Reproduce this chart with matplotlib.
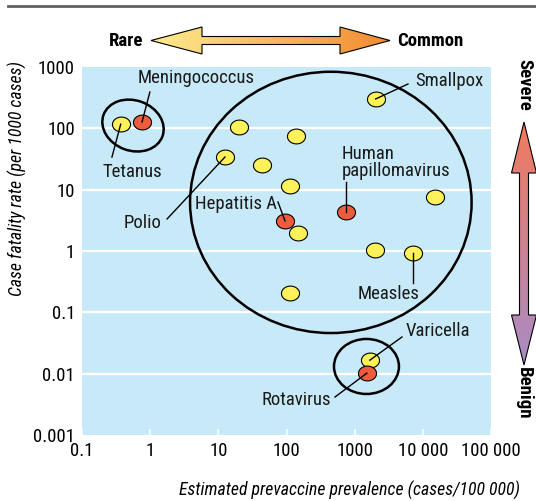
import numpy as np
import matplotlib
matplotlib.use("Agg")
import matplotlib.pyplot as plt
from matplotlib.patches import Ellipse, Polygon
from matplotlib.path import Path
from matplotlib.transforms import IdentityTransform
from matplotlib.colors import LinearSegmentedColormap

plt.rcParams['font.family'] = ['Roboto Condensed', 'DejaVu Sans']

#points jaunes (maladies)
yel_x = [0.37, 20, 138, 12.5, 44, 112, 147, 15300, 1980, 7100, 112, 2030, 1670]
yel_y = [117, 105, 75, 34, 25, 11.4, 1.96, 7.6, 1.03, 0.93, 0.206, 301, 0.0166]

#points rouges
red_x = [0.76, 95, 740, 1510]
red_y = [127, 3.1, 4.3, 0.0102]

#étiquettes
names = ['Meningococcus', 'Tetanus', 'Polio', 'Hepatitis A', 'Human\npapillomavirus',
         'Smallpox', 'Measles', 'Varicella', 'Rotavirus']
pt_x = [0.76, 0.37, 12.5, 95, 740, 2030, 7100, 1670, 1510]
pt_y = [127, 117, 34, 3.1, 4.3, 301, 0.93, 0.0166, 0.0102]
txt_x = [4.7, 0.54, 0.785, 17.9, 652, 7680, 3130, 5600, 138]
txt_y = [660, 19.4, 2.86, 5.83, 27.7, 598, 0.199, 0.0496, 0.00372]
txt_ha = ['center', 'center', 'center', 'center', 'left', 'left', 'center', 'left', 'center']
end_x = [0.99, 0.275, 1.77, 75, 740, 6050, 7100, 4940, 514]
end_y = [391, 34, 3.33, 6.3, 13.3, 528, 0.30, 0.0396, 0.00416]

#ellipses de regroupement (centre en données, taille en décades, angle)
grp_x = [0.56, 447, 1490]
grp_y = [111, 6.2, 0.0131]
grp_w = [0.92, 4.13, 0.953]
grp_h = [0.82, 4.26, 0.897]
grp_a = [-20, 0, 0]

#axes
xticks = [0.1, 1, 10, 100, 1000, 10000, 100000]
xlabels = ['0.1', '1', '10', '100', '1000', '10 000', '100 000']
yticks = [0.001, 0.01, 0.1, 1, 10, 100, 1000]
ylabels = ['0.001', '0.01', '0.1', '1', '10', '100', '1000']

bg = '#C8E9F8'
yellow = '#FFF159'
red = '#EF5B3D'
fs = 13.5

fig = plt.figure(figsize=(5.36, 5.01), dpi=100)
ax = fig.add_axes([82/536, 1-435/501, 409/536, 368/501])
ax.set_xscale('log')
ax.set_yscale('log')
ax.set_xlim(0.1, 100000)
ax.set_ylim(0.001, 1000)
ax.set_facecolor(bg)
for s in ax.spines.values():
    s.set_visible(False)
ax.set_xticks(xticks)
ax.set_xticklabels(xlabels)
ax.set_yticks(yticks)
ax.set_yticklabels(ylabels)
ax.minorticks_off()
ax.tick_params(axis='x', direction='in', color='white', length=4, width=1.2, pad=5, labelsize=fs)
ax.tick_params(axis='y', length=0, pad=5, labelsize=fs)
for y in yticks[1:-1]:
    ax.axhline(y, color='white', lw=1.6, zorder=1)

#marqueur ellipse
t = np.linspace(0, 2*np.pi, 80)
mk = Path(np.column_stack([np.cos(t), 0.82*np.sin(t)]), closed=True)
ax.plot(yel_x, yel_y, ls='none', marker=mk, ms=13, mfc=yellow, mec='black', mew=0.8, zorder=3)
ax.plot(red_x, red_y, ls='none', marker=mk, ms=13, mfc=red, mec='black', mew=0.8, zorder=3)

#lignes de rappel et textes
for i in range(len(names)):
    ax.plot([pt_x[i], end_x[i]], [pt_y[i], end_y[i]], color='black', lw=1, zorder=4)
    ax.text(txt_x[i], txt_y[i], names[i], ha=txt_ha[i], va='center', fontsize=fs,
            linespacing=0.95, color='#1a1a1a', zorder=5)

#ellipses en pixels
fig.canvas.draw()
bb = ax.get_window_extent()
dec_x = bb.width / 6
dec_y = bb.height / 6
for i in range(len(grp_x)):
    cx, cy = ax.transData.transform((grp_x[i], grp_y[i]))
    e = Ellipse((cx, cy), grp_w[i]*dec_x, grp_h[i]*dec_y, angle=grp_a[i],
                transform=IdentityTransform(), fill=False, ec='black', lw=1.8, zorder=2)
    ax.add_artist(e)

#décor (flèches, titres)
ov = fig.add_axes([0, 0, 1, 1], zorder=-1)
ov.patch.set_visible(False)
ov.axis('off')

ov.plot([8, 536], [5.5, 5.5], color='#606060', lw=2)

top = [(151, 40.5), (202, 27), (202, 36.5), (340, 36.5), (340, 27), (390, 40.5),
       (340, 54), (340, 44.5), (202, 44.5), (202, 54)]
cm1 = LinearSegmentedColormap.from_list('c1', ['#FCEC90', '#F28A30'])
p1 = Polygon(top, closed=True, fc='none', ec='black', lw=0.8, zorder=3)
ov.add_patch(p1)
im1 = ov.imshow(np.linspace(0, 1, 256).reshape(1, -1), cmap=cm1, extent=(151, 390, 54, 27),
                aspect='auto', zorder=2)
im1.set_clip_path(p1)

right = [(524, 122), (536.5, 173), (528.5, 173), (528.5, 315), (536.5, 315), (524, 365),
         (511.5, 315), (519.5, 315), (519.5, 173), (511.5, 173)]
cm2 = LinearSegmentedColormap.from_list('c2', ['#F27A5C', '#A88CC6'])
p2 = Polygon(right, closed=True, fc='none', ec='black', lw=0.8, zorder=3)
ov.add_patch(p2)
im2 = ov.imshow(np.linspace(0, 1, 256).reshape(-1, 1), cmap=cm2, extent=(511, 537, 365, 122),
                aspect='auto', zorder=2)
im2.set_clip_path(p2)

ov.set_xlim(0, 536)
ov.set_ylim(501, 0)

ov.text(143, 40.5, 'Rare', ha='right', va='center', fontsize=fs, fontweight='bold')
ov.text(397, 40.5, 'Common', ha='left', va='center', fontsize=fs, fontweight='bold')
ov.text(524, 85, 'Severe', ha='center', va='center', rotation=270, fontsize=fs, fontweight='bold')
ov.text(524, 393, 'Benign', ha='center', va='center', rotation=270, fontsize=fs, fontweight='bold')

ov.text(17, 179, 'Case fatality rate (per 1000 cases)', ha='center', va='center',
        rotation=90, fontsize=12.8, style='italic')
ov.text(520, 490, 'Estimated prevaccine prevalence (cases/100 000)', ha='right', va='center',
        fontsize=12.8, style='italic')

fig.savefig('out.png', dpi=100)
